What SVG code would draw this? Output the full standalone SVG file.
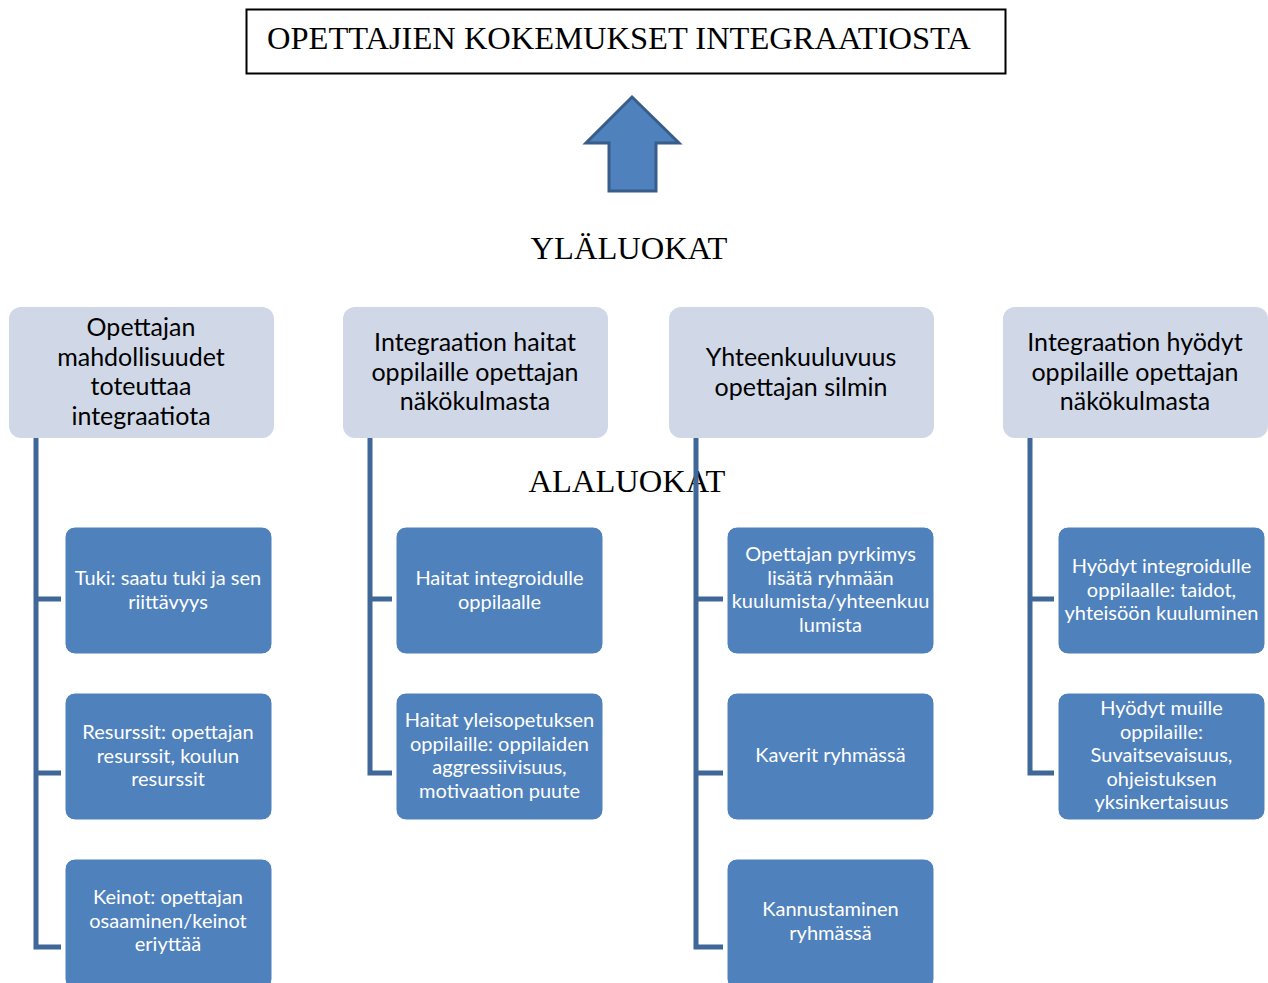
<svg xmlns="http://www.w3.org/2000/svg" width="1268" height="983" viewBox="0 0 1268 983">
<style>
.title{font-family:"Liberation Serif","Times New Roman",serif;font-size:32.5px;fill:#000}
.hdr rect{fill:#d0d8e8;stroke:none}
.hdr text{font-family:Lato,"Liberation Sans",sans-serif;font-size:25px;fill:#000;text-anchor:middle}
.child rect{fill:#4f81bd;stroke:#ffffff;stroke-width:1}
.child text{font-family:Lato,"Liberation Sans",sans-serif;font-size:20px;fill:#fff;text-anchor:middle}
.conn path{fill:none;stroke:#3f6898;stroke-width:5}
</style>
<rect width="1268" height="983" fill="#fff"/>
<g id="title">
<rect x="246.5" y="9.5" width="759" height="64" fill="#fff" stroke="#000" stroke-width="2"/>
<text class="title" x="267" y="49">OPETTAJIEN KOKEMUKSET INTEGRAATIOSTA</text>
</g>
<g id="arrow">
<polygon points="632,97 679,143 656,143 656,191 609,191 609,143 586,143" fill="#4f81bd" stroke="#385d8a" stroke-width="3" stroke-linejoin="miter"/>
</g>
<text id="ylaluokat" class="title" x="629" y="259" text-anchor="middle">YLÄLUOKAT</text>
<text id="alaluokat" class="title" x="627" y="492" text-anchor="middle">ALALUOKAT</text>
<g class="conn" id="connectors">
<path d="M36,438 V947 H61 M36,599 H61 M36,773 H61"/>
<path d="M370,438 V773 H392 M370,599 H392"/>
<path d="M696,438 V947 H723 M696,599 H723 M696,773 H723"/>
<path d="M1030,438 V773 H1054 M1030,599 H1054"/>
</g>
<g class="hdr" id="h1">
<rect x="9" y="307" width="265" height="131" rx="12"/>
<text x="141" y="336">Opettajan</text>
<text x="141" y="365.5">mahdollisuudet</text>
<text x="141" y="395">toteuttaa</text>
<text x="141" y="424.5">integraatiota</text>
</g>
<g class="hdr" id="h2">
<rect x="343" y="307" width="265" height="131" rx="12"/>
<text x="475" y="351">Integraation haitat</text>
<text x="475" y="380.5">oppilaille opettajan</text>
<text x="475" y="410">näkökulmasta</text>
</g>
<g class="hdr" id="h3">
<rect x="669" y="307" width="265" height="131" rx="12"/>
<text x="801" y="366">Yhteenkuuluvuus</text>
<text x="801" y="395.5">opettajan silmin</text>
</g>
<g class="hdr" id="h4">
<rect x="1003" y="307" width="265" height="131" rx="12"/>
<text x="1135" y="351">Integraation hyödyt</text>
<text x="1135" y="380.5">oppilaille opettajan</text>
<text x="1135" y="410">näkökulmasta</text>
</g>
<g class="child" id="c1a">
<rect x="65" y="527" width="207" height="127" rx="10"/>
<text x="168" y="585">Tuki: saatu tuki ja sen</text>
<text x="168" y="608.5">riittävyys</text>
</g>
<g class="child" id="c1b">
<rect x="65" y="693" width="207" height="127" rx="10"/>
<text x="168" y="739">Resurssit: opettajan</text>
<text x="168" y="762.5">resurssit, koulun</text>
<text x="168" y="786">resurssit</text>
</g>
<g class="child" id="c1c">
<rect x="65" y="859" width="207" height="130" rx="10"/>
<text x="168" y="904">Keinot: opettajan</text>
<text x="168" y="927.5">osaaminen/keinot</text>
<text x="168" y="951">eriyttää</text>
</g>
<g class="child" id="c2a">
<rect x="396" y="527" width="207" height="127" rx="10"/>
<text x="499.5" y="585">Haitat integroidulle</text>
<text x="499.5" y="608.5">oppilaalle</text>
</g>
<g class="child" id="c2b">
<rect x="396" y="693" width="207" height="127" rx="10"/>
<text x="499.5" y="727">Haitat yleisopetuksen</text>
<text x="499.5" y="750.5">oppilaille: oppilaiden</text>
<text x="499.5" y="774">aggressiivisuus,</text>
<text x="499.5" y="797.5">motivaation puute</text>
</g>
<g class="child" id="c3a">
<rect x="727" y="527" width="207" height="127" rx="10"/>
<text x="830.5" y="561">Opettajan pyrkimys</text>
<text x="830.5" y="584.5">lisätä ryhmään</text>
<text x="830.5" y="608">kuulumista/yhteenkuu</text>
<text x="830.5" y="631.5">lumista</text>
</g>
<g class="child" id="c3b">
<rect x="727" y="693" width="207" height="127" rx="10"/>
<text x="830.5" y="762">Kaverit ryhmässä</text>
</g>
<g class="child" id="c3c">
<rect x="727" y="859" width="207" height="130" rx="10"/>
<text x="830.5" y="916">Kannustaminen</text>
<text x="830.5" y="939.5">ryhmässä</text>
</g>
<g class="child" id="c4a">
<rect x="1058" y="527" width="207" height="127" rx="10"/>
<text x="1161.5" y="573">Hyödyt integroidulle</text>
<text x="1161.5" y="596.5">oppilaalle: taidot,</text>
<text x="1161.5" y="620">yhteisöön kuuluminen</text>
</g>
<g class="child" id="c4b">
<rect x="1058" y="693" width="207" height="127" rx="10"/>
<text x="1161.5" y="715">Hyödyt muille</text>
<text x="1161.5" y="738.5">oppilaille:</text>
<text x="1161.5" y="762">Suvaitsevaisuus,</text>
<text x="1161.5" y="785.5">ohjeistuksen</text>
<text x="1161.5" y="809">yksinkertaisuus</text>
</g>
</svg>
